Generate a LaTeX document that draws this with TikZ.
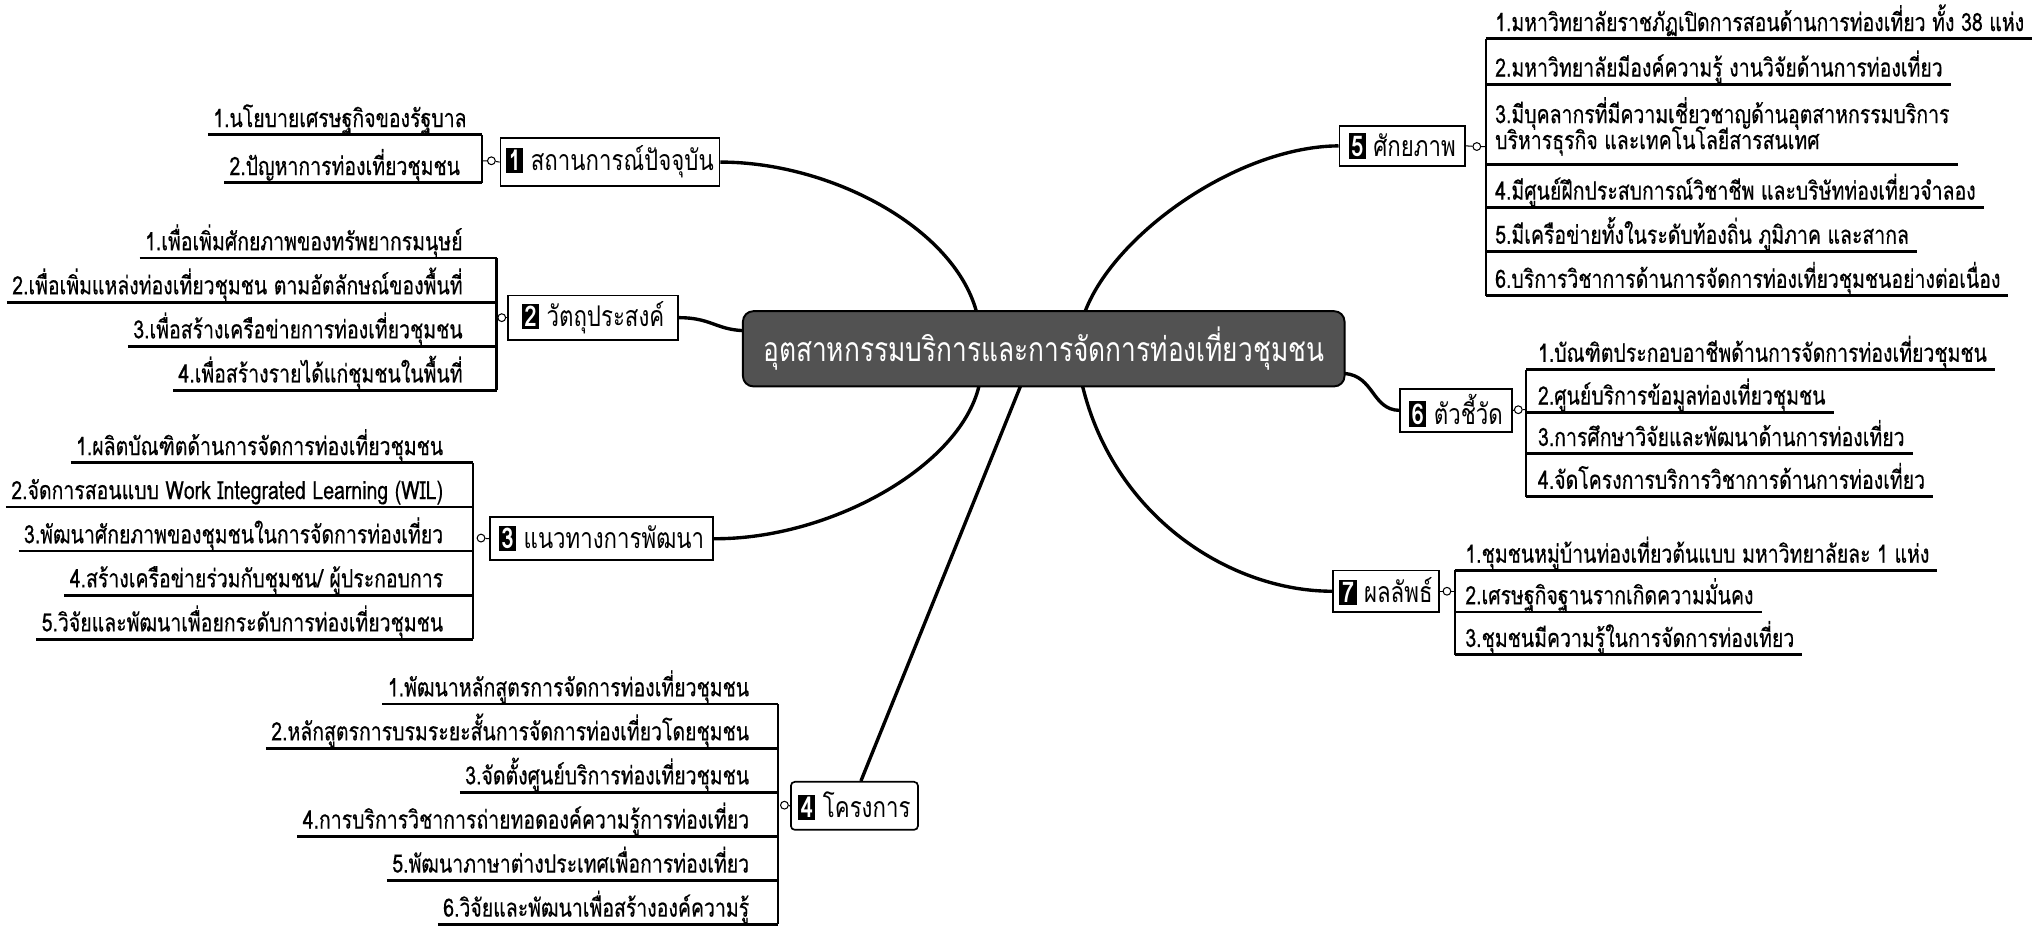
\documentclass[tikz,border=0pt]{standalone}
\usepackage{fontspec}
\newfontfamily\thai[Script=Thai,FakeStretch=0.77,FakeBold=0.4]{Loma}
\newfontfamily\thaitop[Script=Thai,FakeStretch=0.78]{Loma}
\usetikzlibrary{calc}
\newcommand\nbadge[1]{{\setlength\fboxsep{1.8pt}\colorbox{black}{\textcolor{white}{\bfseries #1}}}}
\newcommand\litem[5]{%
  \node[itemL] (#1) at (#2,#3-6) {#5};
  \draw[uline] (#1.base west |- 0,#3) ++(-4,0) -- (#4,#3);
}
\newcommand\ritem[5]{%
  \node[itemR] (#1) at (#2,#3-6) {#5};
  \draw[uline] (#4,#3) -- (#1.base east |- 0,#3) -- ++(6,0);
}
\tikzset{
  itemL/.style={font=\thai\fontsize{19.5}{21}\selectfont, anchor=base east, inner sep=0pt},
  itemR/.style={font=\thai\fontsize{19.5}{21}\selectfont, anchor=base west, inner sep=0pt},
  uline/.style={line width=2.2pt},
  brk/.style={line width=1.7pt},
  topic/.style={draw, line width=1.3pt, font=\thaitop\fontsize{22}{24}\selectfont, inner sep=2pt},
  branch/.style={line width=2.6pt},
  knob/.style={circle, draw, line width=0.8pt, inner sep=0pt, minimum size=6pt, fill=white},
  centre/.style={draw=black, line width=1.5pt, rounded corners=8pt, fill=black!68, text=white,
     font=\thaitop\fontsize{26}{28}\selectfont},
}
\begin{document}
\begin{tikzpicture}[x=1pt,y=-1pt]
\useasboundingbox (0,0) rectangle (1568,724);

% centre
\node[centre, minimum width=464pt, minimum height=58pt] (C) at (805,269) {อุตสาหกรรมบริการและการจัดการท่องเที่ยวชุมชน};

% topics
\node[topic, minimum width=169pt, minimum height=37pt] (T1) at (470.5,125) {\nbadge{1} สถานการณ์ปัจจุบัน};
\node[topic, minimum width=131pt, minimum height=34pt] (T2) at (457.5,245) {\nbadge{2} วัตถุประสงค์};
\node[topic, minimum width=172pt, minimum height=33pt] (T3) at (464,415.5) {\nbadge{3} แนวทางการพัฒนา};
\node[topic, minimum width=98pt, minimum height=37pt, rounded corners=3pt] (T4) at (659,621.5) {\nbadge{4} โครงการ};
\node[topic, minimum width=97pt, minimum height=31pt] (T5) at (1081.5,112.5) {\nbadge{5} ศักยภาพ};
\node[topic, minimum width=86pt, minimum height=33pt] (T6) at (1123,316.5) {\nbadge{6} ตัวชี้วัด};
\node[topic, minimum width=82pt, minimum height=32pt] (T7) at (1069,456) {\nbadge{7} ผลลัพธ์};

% anchor points on the centre box
\coordinate (c1) at (753,240);
\coordinate (c2) at (573,255);
\coordinate (c3) at (755,298);
\coordinate (c4) at (787,298);
\coordinate (c5) at (837,240);
\coordinate (c6) at (1037,288);
\coordinate (c7) at (835,298);

% branches
\draw[branch] (T1.east) .. controls (640,125) and (735,175) .. (c1);
\draw[branch] (T2.east) .. controls (548,245) and (552,254) .. (c2);
\draw[branch] (T3.east) .. controls (640,416) and (740,360) .. (c3);
\draw[branch] (T4.north) ++(5,0) -- (c4);
\draw[branch] (T5.west) .. controls (955,113) and (860,180) .. (c5);
\draw[branch] (c6) .. controls (1060,290) and (1058,316) .. (T6.west);
\draw[branch] (c7) .. controls (860,400) and (950,456) .. (T7.west);

% ---------- group 1
\litem{g1a}{360}{104}{372}{1.นโยบายเศรษฐกิจของรัฐบาล}
\litem{g1b}{355}{141}{372}{2.ปัญหาการท่องเที่ยวชุมชน}
\draw[brk] (372,104) -- (372,141);
\node[knob] (k1) at (379,124) {};
\draw[line width=0.8pt] (372,124) -- (k1) -- (T1.west);

% ---------- group 2
\litem{g2a}{357}{199}{383}{1.เพื่อเพิ่มศักยภาพของทรัพยากรมนุษย์}
\litem{g2b}{357}{233}{383}{2.เพื่อเพิ่มแหล่งท่องเที่ยวชุมชน ตามอัตลักษณ์ของพื้นที่}
\litem{g2c}{357}{267}{383}{3.เพื่อสร้างเครือข่ายการท่องเที่ยวชุมชน}
\litem{g2d}{357}{301}{383}{4.เพื่อสร้างรายได้แก่ชุมชนในพื้นที่}
\draw[brk] (383,199) -- (383,301);
\node[knob] (k2) at (387,245) {};
\draw[line width=0.8pt] (k2) -- (T2.west);

% ---------- group 3
\litem{g3a}{342}{357}{365}{1.ผลิตบัณฑิตด้านการจัดการท่องเที่ยวชุมชน}
\litem{g3b}{342}{391}{365}{2.จัดการสอนแบบ Work Integrated Learning (WIL)}
\litem{g3c}{342}{425}{365}{3.พัฒนาศักยภาพของชุมชนในการจัดการท่องเที่ยว}
\litem{g3d}{342}{459}{365}{4.สร้างเครือข่ายร่วมกับชุมชน/ ผู้ประกอบการ}
\litem{g3e}{342}{493}{365}{5.วิจัยและพัฒนาเพื่อยกระดับการท่องเที่ยวชุมชน}
\draw[brk] (365,357) -- (365,493);
\node[knob] (k3) at (371,415) {};
\draw[line width=0.8pt] (k3) -- (T3.west);

% ---------- group 4
\litem{g4a}{578}{543}{600}{1.พัฒนาหลักสูตรการจัดการท่องเที่ยวชุมชน}
\litem{g4b}{578}{577}{600}{2.หลักสูตรการบรมระยะสั้นการจัดการท่องเที่ยวโดยชุมชน}
\litem{g4c}{578}{611}{600}{3.จัดตั้งศูนย์บริการท่องเที่ยวชุมชน}
\litem{g4d}{578}{645}{600}{4.การบริการวิชาการถ่ายทอดองค์ความรู้การท่องเที่ยว}
\litem{g4e}{578}{679}{600}{5.พัฒนาภาษาต่างประเทศเพื่อการท่องเที่ยว}
\litem{g4f}{578}{713}{600}{6.วิจัยและพัฒนาเพื่อสร้างองค์ความรู้}
\draw[brk] (600,543) -- (600,713);
\node[knob] (k4) at (605,621) {};
\draw[line width=0.8pt] (k4) -- (T4.west);

% ---------- group 5
\ritem{g5a}{1153}{30}{1146}{1.มหาวิทยาลัยราชภัฏเปิดการสอนด้านการท่องเที่ยว ทั้ง 38 แห่ง}
\ritem{g5b}{1153}{65}{1146}{2.มหาวิทยาลัยมีองค์ความรู้ งานวิจัยด้านการท่องเที่ยว}
\node[itemR] (g5c) at (1153,95) {3.มีบุคลากรที่มีความเชี่ยวชาญด้านอุตสาหกรรมบริการ};
\node[itemR] (g5c2) at (1153,115) {บริหารธุรกิจ และเทคโนโลยีสารสนเทศ};
\draw[uline] (1146,127) -- (g5c.east |- 0,127) -- ++(6,0);
\ritem{g5d}{1153}{160}{1146}{4.มีศูนย์ฝึกประสบการณ์วิชาชีพ และบริษัทท่องเที่ยวจำลอง}
\ritem{g5e}{1153}{194}{1146}{5.มีเครือข่ายทั้งในระดับท้องถิ่น ภูมิภาค และสากล}
\ritem{g5f}{1153}{228}{1146}{6.บริการวิชาการด้านการจัดการท่องเที่ยวชุมชนอย่างต่อเนื่อง}
\draw[brk] (1146,30) -- (1146,228);
\node[knob] (k5) at (1139,113) {};
\draw[line width=0.8pt] (T5.east) -- (k5) -- (1146,113);

% ---------- group 6
\ritem{g6a}{1186}{285}{1177}{1.บัณฑิตประกอบอาชีพด้านการจัดการท่องเที่ยวชุมชน}
\ritem{g6b}{1186}{318}{1177}{2.ศูนย์บริการข้อมูลท่องเที่ยวชุมชน}
\ritem{g6c}{1186}{350}{1177}{3.การศึกษาวิจัยและพัฒนาด้านการท่องเที่ยว}
\ritem{g6d}{1186}{383}{1177}{4.จัดโครงการบริการวิชาการด้านการท่องเที่ยว}
\draw[brk] (1177,285) -- (1177,383);
\node[knob] (k6) at (1171,316) {};
\draw[line width=0.8pt] (T6.east) -- (k6) -- (1177,316);

% ---------- group 7
\ritem{g7a}{1130}{440}{1122}{1.ชุมชนหมู่บ้านท่องเที่ยวต้นแบบ มหาวิทยาลัยละ 1 แห่ง}
\ritem{g7b}{1130}{472}{1122}{2.เศรษฐกิจฐานรากเกิดความมั่นคง}
\ritem{g7c}{1130}{505}{1122}{3.ชุมชนมีความรู้ในการจัดการท่องเที่ยว}
\draw[brk] (1122,440) -- (1122,505);
\node[knob] (k7) at (1116,456) {};
\draw[line width=0.8pt] (T7.east) -- (k7) -- (1122,456);
\end{tikzpicture}
\end{document}
